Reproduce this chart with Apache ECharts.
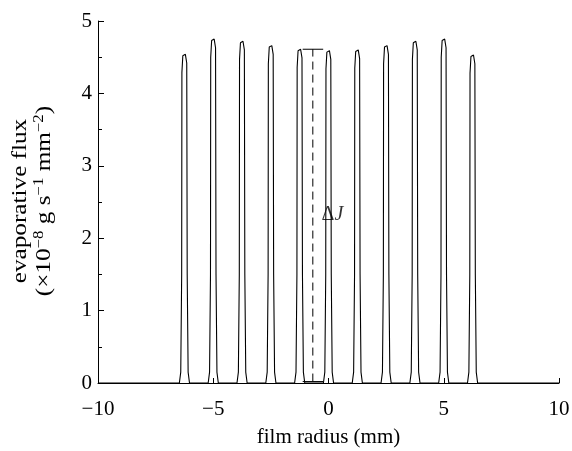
<!DOCTYPE html>
<html>
<head>
<meta charset="utf-8">
<script src="https://cdn.jsdelivr.net/npm/echarts@6/dist/echarts.min.js"></script>
<style>
  html, body { margin: 0; padding: 0; background: #fff; }
  #chart-container { width: 572px; height: 451px; }
</style>
</head>
<body>
<div id="chart-container"></div>
<script>
// flux profile, one array per peak: [film radius (mm), flux]
var peak1 = [[-6.47,0],[-6.41,0.15],[-6.37,1.5],[-6.36,4.29],[-6.32,4.52],[-6.21,4.54],[-6.15,4.42],[-6.13,1.5],[-6.09,0.15],[-6.03,0]];
var peak2 = [[-5.22,0],[-5.16,0.15],[-5.12,1.5],[-5.11,4.50],[-5.07,4.73],[-4.96,4.75],[-4.90,4.63],[-4.88,1.5],[-4.84,0.15],[-4.78,0]];
var peak3 = [[-3.97,0],[-3.91,0.15],[-3.87,1.5],[-3.86,4.47],[-3.82,4.70],[-3.71,4.72],[-3.65,4.60],[-3.63,1.5],[-3.59,0.15],[-3.53,0]];
var peak4 = [[-2.72,0],[-2.66,0.15],[-2.62,1.5],[-2.61,4.41],[-2.57,4.64],[-2.46,4.66],[-2.40,4.54],[-2.38,1.5],[-2.34,0.15],[-2.28,0]];
var peak5 = [[-1.47,0],[-1.41,0.15],[-1.37,1.5],[-1.36,4.36],[-1.32,4.59],[-1.21,4.61],[-1.15,4.49],[-1.13,1.5],[-1.09,0.15],[-1.03,0]];
var peak6 = [[-0.22,0],[-0.16,0.15],[-0.12,1.5],[-0.11,4.34],[-0.07,4.57],[0.04,4.59],[0.10,4.47],[0.12,1.5],[0.16,0.15],[0.22,0]];
var peak7 = [[1.03,0],[1.09,0.15],[1.13,1.5],[1.14,4.35],[1.18,4.58],[1.29,4.60],[1.35,4.48],[1.37,1.5],[1.41,0.15],[1.47,0]];
var peak8 = [[2.28,0],[2.34,0.15],[2.38,1.5],[2.39,4.41],[2.43,4.64],[2.54,4.66],[2.60,4.54],[2.62,1.5],[2.66,0.15],[2.72,0]];
var peak9 = [[3.53,0],[3.59,0.15],[3.63,1.5],[3.64,4.47],[3.68,4.70],[3.79,4.72],[3.85,4.60],[3.87,1.5],[3.91,0.15],[3.97,0]];
var peak10 = [[4.78,0],[4.84,0.15],[4.88,1.5],[4.89,4.50],[4.93,4.73],[5.04,4.75],[5.10,4.63],[5.12,1.5],[5.16,0.15],[5.22,0]];
var peak11 = [[6.03,0],[6.09,0.15],[6.13,1.5],[6.14,4.28],[6.18,4.51],[6.29,4.53],[6.35,4.41],[6.37,1.5],[6.41,0.15],[6.47,0]];
var edgeStart = [[-10, 0]];
var edgeEnd = [[10, 0]];

// delta J marker
var deltaLine = [[-0.68, 0.02], [-0.68, 4.61]];
var deltaTop = [[-1.12, 4.61], [-0.23, 4.61]];
var deltaBottom = [[-1.12, 0.02], [-0.23, 0.02]];
var deltaLabelPos = [[-0.30, 2.33]];

var xTicks = { min: -10, max: 10, step: 5 };
var yTicks = { min: 0, max: 5, step: 1 };

var profile = [].concat(edgeStart, peak1, peak2, peak3, peak4, peak5, peak6,
    peak7, peak8, peak9, peak10, peak11, edgeEnd);

var font = 'Liberation Serif';
var myChart = echarts.init(document.getElementById('chart-container'));

var option = {
    backgroundColor: '#fff',
    animation: false,
    grid: { left: 98, right: 13, top: 21, bottom: 68, outerBoundsMode: 'none', containLabel: false },
    // y title is drawn as a rotated text so it can be stretched like the original
    graphic: [
        {
            type: 'text',
            x: 32,
            y: 201,
            rotation: Math.PI / 2,
            scaleX: 1.2,
            style: {
                text: '{t|evaporative flux}\n{t|(\u00d710}{s|\u22128}{t| g s}{s|\u22121}{t| mm}{s|\u22122}{t|)}',
                align: 'center',
                verticalAlign: 'middle',
                fill: '#000',
                font: '21px "Liberation Serif"',
                rich: {
                    t: { fontFamily: font, fontSize: 21, fill: '#000', lineHeight: 24 },
                    s: { fontFamily: font, fontSize: 14, fill: '#000', lineHeight: 24, padding: [0, 0, 10, 0] }
                }
            }
        }
    ],
    xAxis: {
        type: 'value',
        min: xTicks.min,
        max: xTicks.max,
        interval: xTicks.step,
        name: 'film radius (mm)',
        nameLocation: 'middle',
        nameGap: 44,
        nameTextStyle: { fontFamily: font, fontSize: 21, color: '#000' },
        axisLine: { onZero: false, lineStyle: { color: '#000', width: 1 } },
        axisTick: { inside: true, length: 5, lineStyle: { color: '#000' } },
        axisLabel: {
            fontFamily: font, fontSize: 21, color: '#000', margin: 16,
            formatter: function (v) { return String(v).replace('-', '\u2212'); }
        },
        splitLine: { show: false }
    },
    yAxis: {
        type: 'value',
        min: yTicks.min,
        max: yTicks.max,
        interval: yTicks.step,
        axisLine: { onZero: false, lineStyle: { color: '#000', width: 1 } },
        axisTick: { inside: true, length: 6, lineStyle: { color: '#000' } },
        minorTick: { show: true, splitNumber: 2, length: 4, lineStyle: { color: '#000' } },
        axisLabel: { fontFamily: font, fontSize: 21, color: '#000', margin: 6 },
        splitLine: { show: false }
    },
    series: [
        {
            type: 'line',
            data: profile,
            showSymbol: false,
            lineStyle: { color: '#000', width: 1.1 },
            z: 3
        },
        {
            type: 'line',
            data: deltaLine,
            showSymbol: false,
            lineStyle: { color: '#000', width: 1, type: [8, 5] }
        },
        {
            type: 'line',
            data: deltaTop,
            showSymbol: false,
            lineStyle: { color: '#000', width: 1 }
        },
        {
            type: 'line',
            data: deltaBottom,
            showSymbol: false,
            lineStyle: { color: '#000', width: 1 }
        },
        {
            type: 'scatter',
            data: deltaLabelPos,
            symbolSize: 0,
            label: {
                show: true,
                position: 'right',
                distance: 0,
                formatter: '{d|\u0394}{j|J}',
                rich: {
                    d: { fontFamily: font, fontSize: 20, color: '#000' },
                    j: { fontFamily: font, fontSize: 20, color: '#000', fontStyle: 'italic' }
                }
            },
            z: 4
        }
    ]
};

myChart.setOption(option);
</script>
</body>
</html>
